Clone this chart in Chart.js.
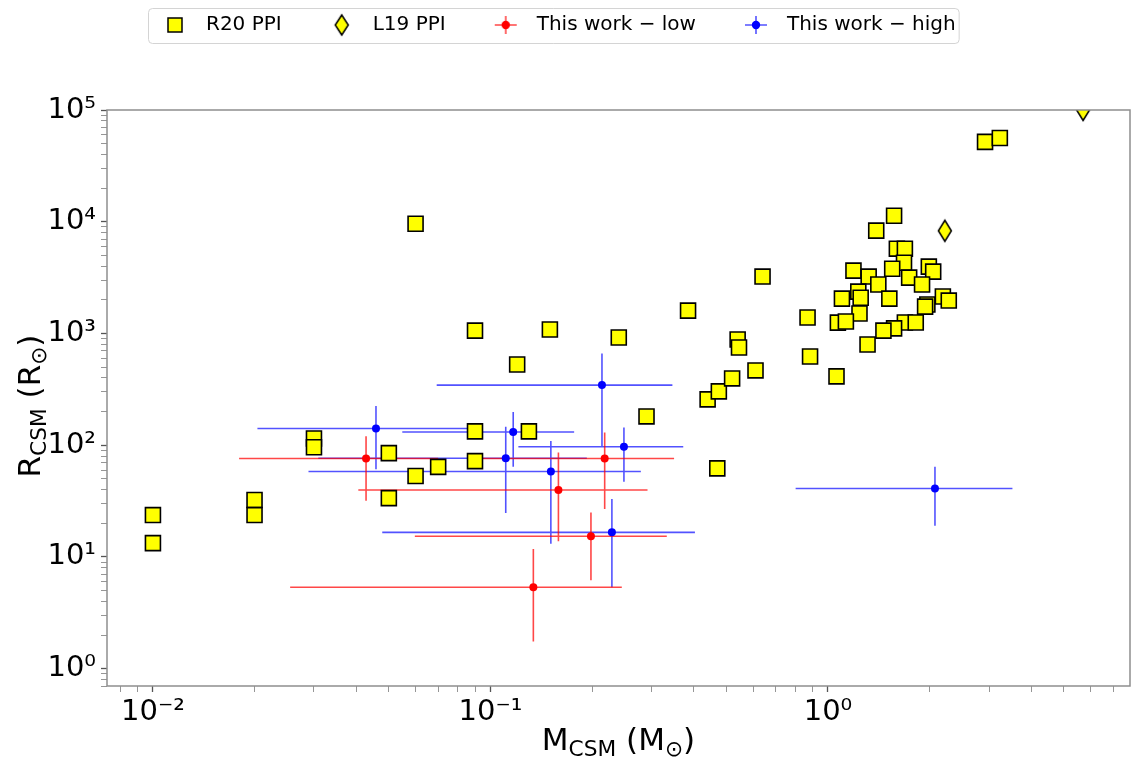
<!DOCTYPE html>
<html>
<head>
<meta charset="utf-8">
<script src="https://cdn.jsdelivr.net/npm/chart.js@4.4.1/dist/chart.umd.min.js"></script>
<style>
  html, body { margin: 0; padding: 0; background: #ffffff; overflow: hidden; }
  #wrap { position: relative; width: 1134px; height: 757px; overflow: hidden; }
  #chart { display: block; }
</style>
</head>
<body>
<div id="wrap"><canvas id="chart"></canvas></div>
<script>
// ---- Data: CSM mass (Msun) and CSM radius (Rsun) ----
const seriesNames = ['R20 PPI', 'L19 PPI', 'This work \u2212 low', 'This work \u2212 high'];

// R20 pulsational pair-instability models
const r20Mass = [0.01, 0.01, 0.02, 0.02, 0.03, 0.03, 0.06, 0.05, 0.05, 0.06, 0.07, 0.09, 0.09, 0.09,
  0.12, 0.13, 0.15, 0.24, 0.29, 0.385, 0.44, 0.475, 0.47, 0.52, 0.54, 0.545, 0.61, 0.64,
  1.57, 1.39, 1.60, 1.69, 1.68, 1.55, 1.99, 2.05, 1.19, 1.32, 1.74, 1.90, 1.41, 1.23, 1.25,
  1.10, 1.52, 2.19, 2.28, 1.97, 1.94, 1.24, 0.87, 1.07, 1.13, 1.69, 1.82, 1.57, 1.46, 1.31,
  0.885, 1.06, 2.92, 3.23];
const r20Radius = [23.7, 13.3, 32.3, 23.7, 115, 96, 9600, 85, 33.6, 53, 64, 1060, 133, 72,
  527, 133, 1086, 920, 181, 1600, 257, 303, 62, 396, 884, 750, 467, 3230,
  11300, 8320, 5740, 5740, 4300, 3800, 3965, 3580, 3650, 3230, 3160, 2740, 2740, 2370, 2090,
  2050, 2050, 2140, 1970, 1815, 1740, 1510, 1390, 1250, 1280, 1255, 1255, 1110, 1060, 797,
  623, 413, 51800, 56200];

// L19 pulsational pair-instability models
const l19Mass = [2.22, 5.7];
const l19Radius = [8300, 100000];

// This work, low-mass solutions (value, lower bound, upper bound)
const lowMass = [0.0428, 0.218, 0.159, 0.1985, 0.134];
const lowMassMin = [0.018, 0.09, 0.0406, 0.0597, 0.0255];
const lowMassMax = [0.07, 0.35, 0.292, 0.333, 0.245];
const lowRadius = [76, 76, 39.7, 15.3, 5.36];
const lowRadiusMin = [31.8, 26.8, 13.8, 6.2, 1.75];
const lowRadiusMax = [120, 130, 86, 25, 11.8];

// This work, high-mass solutions (value, lower bound, upper bound)
const highMass = [0.0458, 0.1168, 0.111, 0.151, 0.214, 0.2486, 0.229, 2.075];
const highMassMin = [0.0204, 0.0548, 0.0309, 0.0289, 0.0693, 0.121, 0.0478, 0.802];
const highMassMax = [0.088, 0.177, 0.193, 0.279, 0.346, 0.3726, 0.4035, 3.52];
const highRadius = [141, 131.5, 76.5, 58.2, 345, 97, 16.6, 41];
const highRadiusMin = [61, 64, 24.7, 13.1, 97, 47, 5.36, 19];
const highRadiusMax = [224, 198, 146, 109, 663, 144, 33, 64];

// Axis ranges and labelled decades
const xRange = [0.00731, 7.85];
const yRange = [0.72, 100000];
const xDecades = [-2, -1, 0];
const yDecades = [0, 1, 2, 3, 4, 5];

// ---- Styling ----
const YELLOW = '#ffff00';
const RED = '#ff0000';
const BLUE = '#0000ff';
const RED_BAR = 'rgba(255,0,0,0.72)';
const BLUE_BAR = 'rgba(0,0,255,0.68)';
const FONT = "'DejaVu Sans', 'Liberation Sans', sans-serif";

function toPoints(xs, ys) {
  return xs.map((x, i) => ({ x: x, y: ys[i] }));
}

// Error bars as broken polylines (null y splits the segments)
function errorSegments(xs, xLo, xHi, ys, yLo, yHi) {
  const pts = [];
  xs.forEach((x, i) => {
    pts.push({ x: xLo[i], y: ys[i] }, { x: xHi[i], y: ys[i] }, { x: x, y: null });
    pts.push({ x: x, y: yLo[i] }, { x: x, y: yHi[i] }, { x: x, y: null });
  });
  return pts;
}

const SUP = { '-': '\u207B', '0': '\u2070', '1': '\u00B9', '2': '\u00B2', '3': '\u00B3',
  '4': '\u2074', '5': '\u2075', '6': '\u2076', '7': '\u2077', '8': '\u2078', '9': '\u2079' };
function powerLabel(exp) {
  return '10' + String(exp).split('').map(c => SUP[c]).join('');
}

function logTicks(min, max, decades) {
  const out = [];
  const lo = Math.floor(Math.log10(min));
  const hi = Math.ceil(Math.log10(max));
  for (let e = lo; e <= hi; e++) {
    for (let m = 1; m <= 9; m++) {
      const v = m * Math.pow(10, e);
      if (v >= min * 0.9999 && v <= max * 1.0001) {
        out.push({ value: v, major: m === 1 && decades.includes(e) });
      }
    }
  }
  return out;
}

function makeIcon(w, h, draw) {
  const c = document.createElement('canvas');
  c.width = w; c.height = h;
  draw(c.getContext('2d'));
  return c;
}

// Thin diamond marker for the plot
const diamondMarker = makeIcon(18, 26, g => {
  g.beginPath();
  g.moveTo(9, 2.5); g.lineTo(15.5, 13); g.lineTo(9, 23.5); g.lineTo(2.5, 13); g.closePath();
  g.fillStyle = YELLOW; g.fill();
  g.lineWidth = 1.5; g.strokeStyle = '#000'; g.stroke();
});

// Legend handles (66 px wide, handle centred at x = 45)
const ICON_W = 66, ICON_H = 26, HX = 45, HY = 13;
const legendSquare = makeIcon(ICON_W, ICON_H, g => {
  g.fillStyle = YELLOW; g.fillRect(HX - 7, HY - 7, 14, 14);
  g.lineWidth = 1.5; g.strokeStyle = '#000'; g.strokeRect(HX - 7, HY - 7, 14, 14);
});
const legendDiamond = makeIcon(ICON_W, ICON_H, g => {
  g.beginPath();
  g.moveTo(HX, HY - 10); g.lineTo(HX + 6.5, HY); g.lineTo(HX, HY + 10); g.lineTo(HX - 6.5, HY); g.closePath();
  g.fillStyle = YELLOW; g.fill();
  g.lineWidth = 1.5; g.strokeStyle = '#000'; g.stroke();
});
function errorHandle(lineColor, dotColor) {
  return makeIcon(ICON_W, ICON_H, g => {
    g.strokeStyle = lineColor; g.lineWidth = 1.6;
    g.beginPath();
    g.moveTo(HX - 11, HY); g.lineTo(HX + 11, HY);
    g.moveTo(HX, HY - 9); g.lineTo(HX, HY + 9);
    g.stroke();
    g.fillStyle = dotColor;
    g.beginPath(); g.arc(HX, HY, 4.2, 0, Math.PI * 2); g.fill();
  });
}
const legendIcons = [legendSquare, legendDiamond, errorHandle(RED_BAR, RED), errorHandle(BLUE_BAR, BLUE)];

// ---- Plugin: legend frame, axes frame, axis titles with subscripts ----
const LEGEND_START_X = 130;
const LEGEND_LIFT = 65;

function drawMath(ctx, parts, size) {
  const subSize = size * 0.7;
  let total = 0;
  parts.forEach(p => {
    ctx.font = (p.sub ? subSize : size) + 'px ' + FONT;
    p.w = ctx.measureText(p.t).width;
    total += p.w;
  });
  let x = -total / 2;
  parts.forEach(p => {
    ctx.font = (p.sub ? subSize : size) + 'px ' + FONT;
    ctx.fillText(p.t, x, p.sub ? size * 0.2 : 0);
    x += p.w;
  });
}

const decorations = {
  id: 'decorations',
  afterLayout(chart) {
    const lg = chart.legend;
    const pad = lg.options.labels.padding;
    const dx = LEGEND_START_X - (lg.left + pad);
    lg.left += dx; lg.right += dx;
    lg.top -= LEGEND_LIFT; lg.bottom -= LEGEND_LIFT;
  },
  beforeDraw(chart) {
    const ctx = chart.ctx;
    const lg = chart.legend;
    const hb = lg.legendHitBoxes;
    if (!hb || !hb.length) return;
    const first = hb[0], last = hb[hb.length - 1];
    const x0 = first.left + 18.5, x1 = last.left + last.width + 3.5;
    const y0 = lg.top + 8.5, y1 = lg.top + 43.5;
    ctx.save();
    ctx.beginPath();
    ctx.roundRect(x0, y0, x1 - x0, y1 - y0, 4);
    ctx.fillStyle = '#ffffff'; ctx.fill();
    ctx.lineWidth = 1; ctx.strokeStyle = '#d4d4d4'; ctx.stroke();
    ctx.restore();
  },
  afterDatasetsDraw(chart) {
    const { ctx, chartArea: a } = chart;
    ctx.save();
    ctx.lineWidth = 1.5;
    ctx.strokeStyle = '#8e8e8e';
    ctx.strokeRect(a.left, a.top, a.right - a.left, a.bottom - a.top);
    ctx.restore();
  },
  afterDraw(chart) {
    const { ctx, chartArea: a } = chart;
    ctx.save();
    ctx.fillStyle = '#000';
    ctx.textBaseline = 'alphabetic';
    ctx.textAlign = 'left';
    // x title
    ctx.save();
    ctx.translate((a.left + a.right) / 2, 750);
    drawMath(ctx, [{ t: 'M' }, { t: 'CSM', sub: true }, { t: ' (M' }, { t: '\u2299', sub: true }, { t: ')' }], 31);
    ctx.restore();
    // y title
    ctx.save();
    ctx.translate(40, (a.top + a.bottom) / 2 + 8);
    ctx.rotate(-Math.PI / 2);
    drawMath(ctx, [{ t: 'R' }, { t: 'CSM', sub: true }, { t: ' (R' }, { t: '\u2299', sub: true }, { t: ')' }], 31);
    ctx.restore();
    ctx.restore();
  }
};

// ---- Chart ----
function logAxis(range, decades, extra) {
  return Object.assign({
    type: 'logarithmic',
    min: range[0],
    max: range[1],
    afterBuildTicks: scale => { scale.ticks = logTicks(scale.min, scale.max, decades); },
    grid: {
      display: true,
      drawOnChartArea: false,
      drawTicks: true,
      tickLength: 6,
      tickColor: c => (c.tick && c.tick.major) ? '#555555' : '#8a8a8a',
      tickWidth: c => (c.tick && c.tick.major) ? 1.3 : 0.9
    },
    border: { display: false }
  }, extra);
}

const chart = new Chart(document.getElementById('chart'), {
  type: 'scatter',
  data: {
    datasets: [
      {
        label: seriesNames[0],
        data: toPoints(r20Mass, r20Radius),
        pointStyle: 'rect',
        pointRadius: 10.6,
        backgroundColor: YELLOW,
        borderColor: '#000',
        borderWidth: 1.6
      },
      {
        label: seriesNames[1],
        data: toPoints(l19Mass, l19Radius),
        pointStyle: diamondMarker,
        pointRadius: 10,
        backgroundColor: YELLOW,
        borderColor: '#000'
      },
      {
        label: seriesNames[2],
        data: toPoints(lowMass, lowRadius),
        pointStyle: 'circle',
        pointRadius: 4,
        borderWidth: 0,
        backgroundColor: RED
      },
      {
        label: seriesNames[3],
        data: toPoints(highMass, highRadius),
        pointStyle: 'circle',
        pointRadius: 4,
        borderWidth: 0,
        backgroundColor: BLUE
      },
      {
        label: 'low-errors',
        data: errorSegments(lowMass, lowMassMin, lowMassMax, lowRadius, lowRadiusMin, lowRadiusMax),
        showLine: true,
        spanGaps: false,
        pointRadius: 0,
        borderColor: RED_BAR,
        borderWidth: 1.6
      },
      {
        label: 'high-errors',
        data: errorSegments(highMass, highMassMin, highMassMax, highRadius, highRadiusMin, highRadiusMax),
        showLine: true,
        spanGaps: false,
        pointRadius: 0,
        borderColor: BLUE_BAR,
        borderWidth: 1.6
      }
    ]
  },
  options: {
    responsive: true,
    maintainAspectRatio: false,
    devicePixelRatio: 1,
    animation: false,
    events: [],
    layout: { autoPadding: false, padding: { top: LEGEND_LIFT, right: 4, bottom: 0, left: 0 } },
    scales: {
      x: logAxis(xRange, xDecades, {
        afterFit: scale => { scale.height = 71; scale.paddingLeft = 0; scale.paddingRight = 0; },
        ticks: {
          autoSkip: false, maxRotation: 0, color: '#000', padding: 3,
          font: { family: FONT, size: 29 },
          callback: (value, index, ticks) => ticks[index].major ? powerLabel(Math.round(Math.log10(value))) : ''
        }
      }),
      y: logAxis(yRange, yDecades, {
        afterFit: scale => { scale.width = 107; },
        ticks: {
          autoSkip: false, color: '#000', padding: 5,
          font: { family: FONT, size: 29 },
          callback: (value, index, ticks) => ticks[index].major ? powerLabel(Math.round(Math.log10(value))) : ''
        }
      })
    },
    plugins: {
      tooltip: { enabled: false },
      legend: {
        position: 'top',
        align: 'start',
        labels: {
          usePointStyle: true,
          pointStyleWidth: ICON_W,
          padding: 15,
          color: '#000',
          font: { family: FONT, size: 20 },
          generateLabels: chart => seriesNames.map((name, i) => ({
            text: name,
            datasetIndex: i,
            pointStyle: legendIcons[i],
            fillStyle: 'transparent',
            strokeStyle: 'transparent',
            lineWidth: 0,
            fontColor: '#000',
            hidden: false
          }))
        }
      }
    }
  },
  plugins: [decorations]
});
</script>
</body>
</html>
